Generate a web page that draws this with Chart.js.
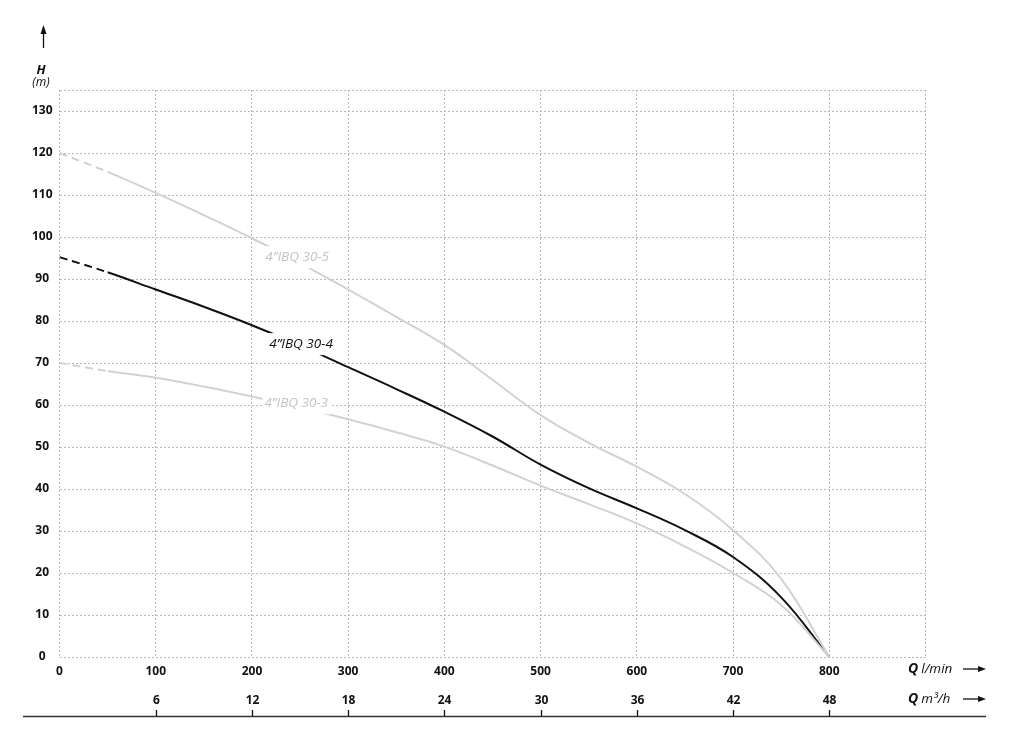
<!DOCTYPE html>
<html>
<head>
<meta charset="utf-8">
<script src="https://cdn.jsdelivr.net/npm/chart.js@4.4.1/dist/chart.umd.min.js"></script>
<style>
  html, body { margin: 0; padding: 0; background: #fff; }
  canvas { display: block; }
</style>
</head>
<body>
<canvas id="pump" width="1024" height="731"></canvas>
<script>
  // flow in l/min (shared by all three curves), head in m
  const flow = [0, 50, 100, 150, 200, 250, 300, 350, 400, 450, 500, 550, 600, 650, 700, 750, 800];
  const h305 = [120, 115.5, 110.5, 105.2, 99.7, 93.8, 87.5, 81, 74.3, 66, 57.6, 51, 45.3, 38.8, 30.2, 18.6, 0];
  const h304 = [95.2, 91.6, 87.5, 83.4, 79, 74.2, 69, 63.8, 58.4, 52.5, 45.8, 40.2, 35.4, 30.2, 23.8, 14.2, 0];
  const h303 = [70, 68.1, 66.5, 64.4, 62, 59.4, 56.6, 53.5, 50.1, 45.6, 40.8, 36.4, 31.8, 26.3, 20, 12.4, 0];

  const m3hTicks = [6, 12, 18, 24, 30, 36, 42, 48];
  const dashedUntil = 50;

  const curveLabels = [
    { text: '4”IBQ 30-5', x: 247, y: 95.2, color: '#c4c4c4' },
    { text: '4”IBQ 30-4', x: 251, y: 74.5, color: '#111' },
    { text: '4”IBQ 30-3', x: 246, y: 60.4, color: '#c4c4c4' }
  ];

  const FONT = '"Open Sans", "Noto Sans", sans-serif';

  function points(qs, hs) {
    return qs.map((q, i) => ({ x: q, y: hs[i] }));
  }

  function curve(label, hs, color) {
    return {
      label: label,
      data: points(flow, hs),
      borderColor: color,
      borderWidth: 2,
      pointRadius: 0,
      tension: 0.4,
      segment: {
        borderDash: ctx => ctx.p1.parsed.x <= dashedUntil ? [8, 5] : undefined
      }
    };
  }

  function arrowRight(ctx, x0, x1, y) {
    ctx.beginPath();
    ctx.moveTo(x0, y);
    ctx.lineTo(x1 - 6, y);
    ctx.stroke();
    ctx.beginPath();
    ctx.moveTo(x1, y);
    ctx.lineTo(x1 - 8, y - 3);
    ctx.lineTo(x1 - 8, y + 3);
    ctx.closePath();
    ctx.fill();
  }

  const decorations = {
    id: 'decorations',
    afterDatasetsDraw(chart) {
      const ctx = chart.ctx;
      const xs = chart.scales.x;
      const ys = chart.scales.y;
      ctx.save();

      // labels sitting on the curves
      ctx.font = 'italic 13.5px ' + FONT;
      ctx.textBaseline = 'middle';
      ctx.textAlign = 'center';
      curveLabels.forEach(l => {
        const px = xs.getPixelForValue(l.x);
        const py = ys.getPixelForValue(l.y);
        const w = ctx.measureText(l.text).width;
        ctx.fillStyle = '#fff';
        ctx.fillRect(px - w / 2 - 2, py - 11, w + 4, 22);
        ctx.fillStyle = l.color;
        ctx.fillText(l.text, px, py);
      });

      ctx.fillStyle = '#111';
      ctx.strokeStyle = '#111';
      ctx.lineWidth = 1.3;

      // vertical axis arrow and title
      ctx.beginPath();
      ctx.moveTo(43.5, 48);
      ctx.lineTo(43.5, 32);
      ctx.stroke();
      ctx.beginPath();
      ctx.moveTo(43.5, 25);
      ctx.lineTo(40.5, 34);
      ctx.lineTo(46.5, 34);
      ctx.closePath();
      ctx.fill();

      ctx.textAlign = 'center';
      ctx.font = 'italic bold 13px ' + FONT;
      ctx.fillText('H', 41, 70);
      ctx.font = 'italic 12px ' + FONT;
      ctx.fillText('(m)', 41, 83);

      // horizontal axis titles
      ctx.textAlign = 'left';
      ctx.font = 'italic bold 14px ' + FONT;
      ctx.fillText('Q', 908, 669);
      ctx.fillText('Q', 908, 699);
      const qw = ctx.measureText('Q').width;
      ctx.font = 'italic 13.5px ' + FONT;
      ctx.fillText('l/min', 908 + qw + 3, 669);
      ctx.fillText('m³/h', 908 + qw + 3, 699);
      arrowRight(ctx, 963, 986, 669);
      arrowRight(ctx, 963, 986, 699);

      // second flow scale in m3/h
      ctx.font = 'bold 12px ' + FONT;
      ctx.textAlign = 'center';
      m3hTicks.forEach(v => {
        const px = Math.round(xs.getPixelForValue(v * 1000 / 60)) + 0.5;
        ctx.fillText(String(v), px, 701);
        ctx.beginPath();
        ctx.moveTo(px, 710);
        ctx.lineTo(px, 716);
        ctx.stroke();
      });
      ctx.lineWidth = 1.5;
      ctx.strokeStyle = '#333';
      ctx.beginPath();
      ctx.moveTo(23, 716.5);
      ctx.lineTo(986, 716.5);
      ctx.stroke();

      ctx.restore();
    }
  };

  new Chart(document.getElementById('pump'), {
    type: 'line',
    data: {
      datasets: [
        curve('4”IBQ 30-5', h305, '#d2d2d2'),
        curve('4”IBQ 30-3', h303, '#d2d2d2'),
        curve('4”IBQ 30-4', h304, '#111')
      ]
    },
    options: {
      responsive: false,
      animation: false,
      layout: { padding: { top: 90, right: 98.5, left: 0, bottom: 0 } },
      plugins: {
        legend: { display: false },
        tooltip: { enabled: false }
      },
      scales: {
        x: {
          type: 'linear',
          min: 0,
          max: 900,
          afterFit: s => { s.height = 74; },
          ticks: {
            stepSize: 100,
            padding: 7,
            color: '#111',
            font: { family: FONT, size: 12, weight: 'bold' },
            maxRotation: 0,
            callback: v => v === 900 ? '' : v
          },
          grid: { color: '#b8b8b8', lineWidth: 1, drawTicks: false },
          border: { display: false, dash: [2, 2] }
        },
        y: {
          min: 0,
          max: 135,
          afterFit: s => { s.width = 59.5; },
          ticks: {
            stepSize: 10,
            padding: 7,
            crossAlign: 'center',
            color: '#111',
            font: { family: FONT, size: 12, weight: 'bold' },
            callback: v => v === 135 ? '' : v
          },
          grid: { color: '#b8b8b8', lineWidth: 1, drawTicks: false },
          border: { display: false, dash: [2, 2] }
        }
      }
    },
    plugins: [decorations]
  });
</script>
</body>
</html>
